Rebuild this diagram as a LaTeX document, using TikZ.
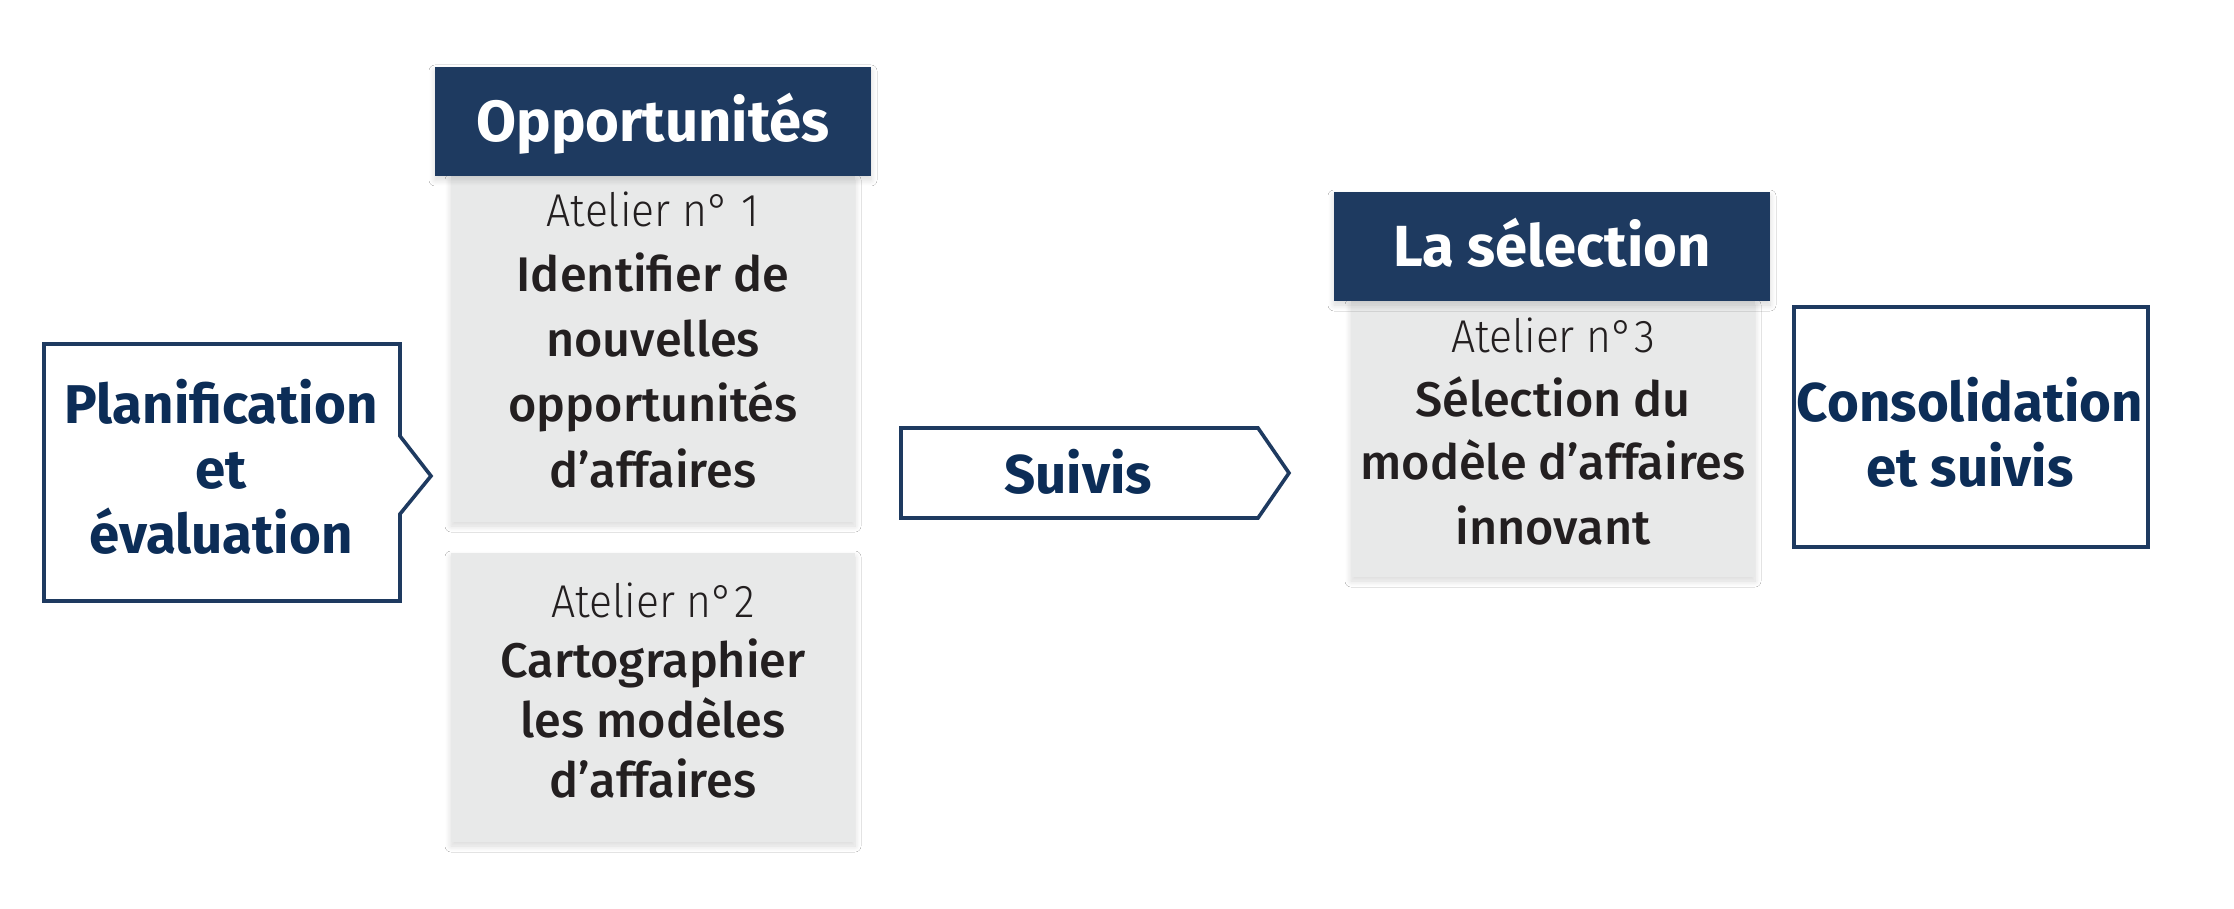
\documentclass[tikz,border=0pt]{standalone}
\usepackage{fontspec}
\setmainfont{Fira Sans}
\newfontfamily\lightfont{Fira Sans Light}[FakeStretch=0.93]
\newfontfamily\mediumfont{Fira Sans Medium}
\usetikzlibrary{shadows.blur}
\definecolor{navy}{HTML}{1E3A60}
\definecolor{navytext}{HTML}{0C2D57}
\definecolor{boxgray}{HTML}{E8E9E9}
\definecolor{bodytext}{HTML}{231F20}
\tikzset{
  softshadow/.style={blur shadow={shadow xshift=0pt, shadow yshift=-2pt, shadow blur radius=3pt, shadow blur steps=8, shadow opacity=15}},
  header/.style={fill=navy, text=white, font=\fontsize{29}{34}\selectfont\bfseries, minimum width=218pt, minimum height=54.5pt, text height=20.5pt, text depth=0pt, inner sep=0pt, softshadow},
  graybox/.style={fill=boxgray, inner sep=0pt, minimum width=202pt, softshadow},
  atelier/.style={anchor=base, text=bodytext, font=\lightfont\fontsize{23}{28}\selectfont},
  body/.style={anchor=base, text=bodytext, font=\mediumfont\fontsize{24.3}{29}\selectfont},
  stage/.style={anchor=base, text=navytext, font=\fontsize{27.3}{33}\selectfont\bfseries},
  outline/.style={draw=navy, line width=1.8pt}
}
\begin{document}
\begin{tikzpicture}[x=0.5pt, y=-0.5pt]
\fill[white] (0,0) rectangle (2234,909);

\draw[outline] (44,344) -- (400,344) -- (400,436) -- (431,476) -- (400,514) -- (400,601) -- (44,601) -- cycle;
\foreach \line [count=\i from 0] in {Planification, et, évaluation}
  \node[stage] (plan-\i) at (221,{423+65*\i}) {\line};

\node[graybox, minimum height=173pt] (box1) at (653,349) {};
\node[graybox, minimum height=144.5pt] (box2) at (653,697.5) {};
\node[header] (opp) at (653,121.5) {Opportunités};
\node[atelier] (at1) at (653,227) {Atelier n° 1};
\foreach \line [count=\i from 0] in {Identifier de, nouvelles, opportunités, d’affaires}
  \node[body] (opp-\i) at (653,{292+65*\i}) {\line};
\node[atelier] (at2) at (653,617) {Atelier n°2};
\foreach \line [count=\i from 0] in {Cartographier, les modèles, d’affaires}
  \node[body] (carto-\i) at (653,{677+60*\i}) {\line};

\draw[outline] (901,428) -- (1258,428) -- (1289,473) -- (1258,518) -- (901,518) -- cycle;
\node[stage] (suivis) at (1078,493) {Suivis};

\node[graybox, minimum height=138pt] (box3) at (1553,439) {};
\node[header] (sel) at (1552,246.5) {La sélection};
\node[atelier] (at3) at (1553,352) {Atelier n°3};
\foreach \line [count=\i from 0] in {Sélection du, modèle d’affaires, innovant}
  \node[body] (sel-\i) at (1553,{416+64*\i}) {\line};

\draw[outline] (1794,307) rectangle (2148,547);
\node[stage] (cons-0) at (1970,422) {Consolidation};
\node[stage] (cons-1) at (1970,486) {et suivis};
\end{tikzpicture}
\end{document}
